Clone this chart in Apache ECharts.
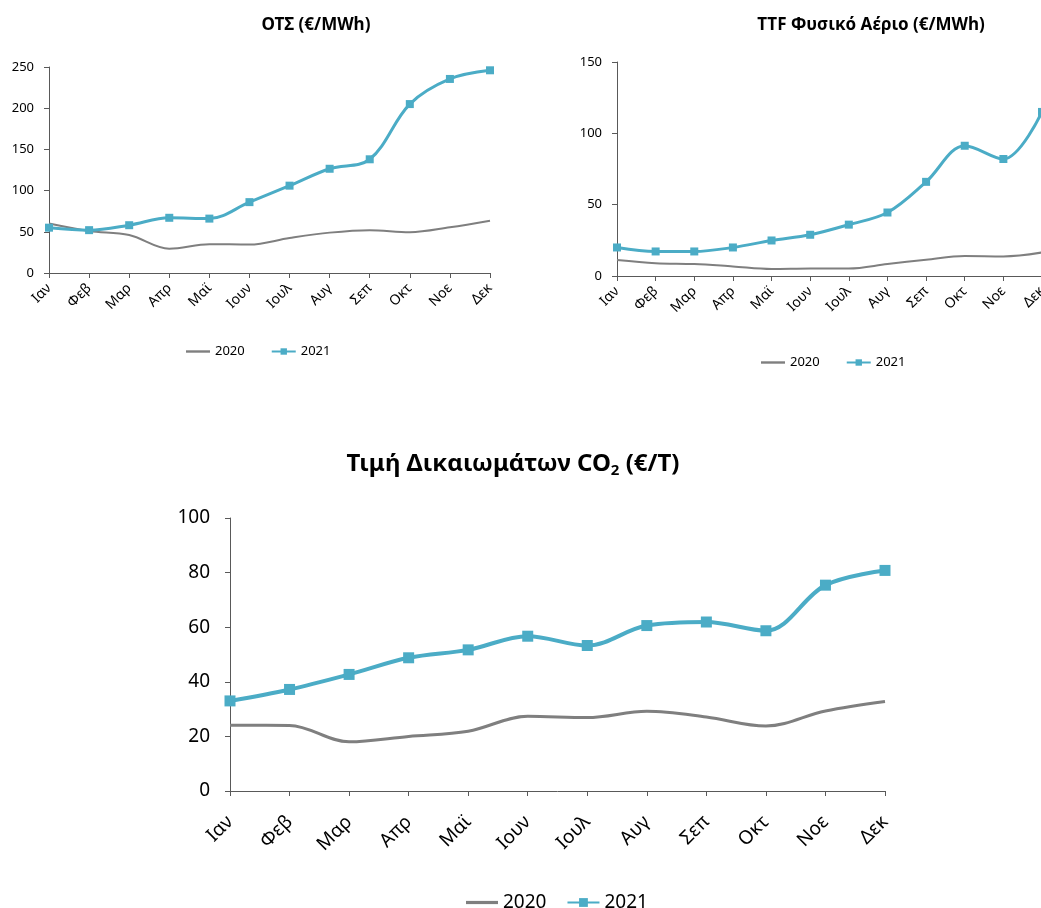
<!DOCTYPE html>
<html>
<head>
<meta charset="utf-8">
<script src="https://cdn.jsdelivr.net/npm/echarts@6/dist/echarts.min.js"></script>
<style>
  html, body { margin: 0; padding: 0; background: #fff; }
  #main { width: 1041px; height: 908px; }
</style>
</head>
<body>
<div id="main"></div>
<script>
// months
var months = ["Ιαν", "Φεβ", "Μαρ", "Απρ", "Μαϊ", "Ιουν", "Ιουλ", "Αυγ", "Σεπ", "Οκτ", "Νοε", "Δεκ"];

// ΟΤΣ (€/MWh)
var ots2020 = [60, 51, 46, 29.5, 35, 34.5, 42.5, 49, 52, 49.5, 55.5, 63.5];
var ots2021 = [55, 52, 58, 67, 66, 86, 106, 126.5, 138, 205, 235.5, 246];

// TTF Φυσικό Αέριο (€/MWh)
var ttf2020 = [11.2, 9, 8.4, 6.7, 4.9, 5.3, 5.3, 8.4, 11.4, 14, 13.7, 16.5];
var ttf2021 = [20, 17.2, 17.2, 20, 24.9, 28.9, 36, 44.5, 66, 91.3, 82, 115];

// Τιμή Δικαιωμάτων CO2 (€/T)
var co2_2020 = [24.1, 24, 18, 20, 21.9, 27.4, 26.9, 29.2, 27.1, 23.8, 29.3, 32.8];
var co2_2021 = [33, 37.2, 42.7, 48.8, 51.7, 56.7, 53.3, 60.6, 61.9, 58.7, 75.4, 80.8];

var grey = "#7f7f7f";
var blue = "#4bacc6";
var axisCol = "#595959";
var font = "Noto Sans";
var lineIcon = "path://M0,0H30V3H0Z";

var chart = echarts.init(document.getElementById("main"));

function xAx(idx, size, margin) {
  return {
    type: "category",
    gridIndex: idx,
    data: months,
    boundaryGap: false,
    axisLine: { lineStyle: { color: axisCol, width: 1 } },
    axisTick: { show: true, length: 5, lineStyle: { color: axisCol } },
    axisLabel: { rotate: 45, fontSize: size, color: "#000", fontFamily: font, margin: margin, interval: 0 },
    splitLine: { show: false }
  };
}
function yAx(idx, max, step, size, margin) {
  return {
    type: "value",
    gridIndex: idx,
    min: 0,
    max: max,
    interval: step,
    axisLine: { show: true, lineStyle: { color: axisCol, width: 1 } },
    axisTick: { show: true, length: 5, lineStyle: { color: axisCol } },
    axisLabel: { fontSize: size, color: "#000", fontFamily: font, margin: margin },
    splitLine: { show: false }
  };
}
function greyLine(name, idx, data, w) {
  return {
    name: name, type: "line", xAxisIndex: idx, yAxisIndex: idx,
    data: data, smooth: 0.35, symbol: "none",
    lineStyle: { color: grey, width: w }, itemStyle: { color: grey }, z: 2
  };
}
function blueLine(name, idx, data, w, s) {
  return {
    name: name, type: "line", xAxisIndex: idx, yAxisIndex: idx,
    data: data, smooth: 0.35, symbol: "rect", symbolSize: s,
    lineStyle: { color: blue, width: w }, itemStyle: { color: blue }, z: 3
  };
}
function legendOf(a, b, left, top, w, h, gap, size) {
  return {
    data: [{ name: a, icon: lineIcon }, { name: b }],
    left: left, top: top, itemWidth: w, itemHeight: h, itemGap: gap,
    textStyle: { fontSize: size, color: "#000", fontFamily: font },
    formatter: function (n) { return n.split("_")[0]; }
  };
}

var option = {
  backgroundColor: "#fff",
  animation: false,
  title: [
    { text: "ΟΤΣ (€/MWh)", left: 311, top: 12, textAlign: "center",
      textStyle: { fontSize: 17, fontWeight: "bold", color: "#000", fontFamily: font } },
    { text: "TTF Φυσικό Αέριο (€/MWh)", left: 866, top: 12, textAlign: "center",
      textStyle: { fontSize: 17, fontWeight: "bold", color: "#000", fontFamily: font } },
    { text: "{a|Τιμή Δικαιωμάτων CO}{b|2}{a| (€/T)}", left: 508, top: 446, textAlign: "center",
      textStyle: {
        rich: {
          a: { fontSize: 24, fontWeight: "bold", color: "#000", fontFamily: font },
          b: { fontSize: 15, fontWeight: "bold", color: "#000", fontFamily: font, padding: [12, 0, 0, 0] }
        }
      } }
  ],
  legend: [
    legendOf("2020", "2021", 181, 340, 24, 8, 26, 13),
    legendOf("2020_ttf", "2021_ttf", 756, 351, 24, 8, 26, 13),
    legendOf("2020_co2", "2021_co2", 461, 888, 32, 11, 20, 19)
  ],
  grid: [
    { left: 49, top: 67, width: 441, height: 206, outerBoundsMode: "none" },
    { left: 617, top: 62, width: 425, height: 214, outerBoundsMode: "none" },
    { left: 230, top: 518, width: 655, height: 273, outerBoundsMode: "none" }
  ],
  xAxis: [xAx(0, 14, 13), xAx(1, 14, 13), xAx(2, 19, 28)],
  yAxis: [yAx(0, 250, 50, 13, 15), yAx(1, 150, 50, 13, 15), yAx(2, 100, 20, 19, 20)],
  series: [
    greyLine("2020", 0, ots2020, 2),
    blueLine("2021", 0, ots2021, 3, 8),
    greyLine("2020_ttf", 1, ttf2020, 2),
    blueLine("2021_ttf", 1, ttf2021, 3, 8),
    greyLine("2020_co2", 2, co2_2020, 3),
    blueLine("2021_co2", 2, co2_2021, 4, 11)
  ]
};

chart.setOption(option);
window.addEventListener("resize", function () { chart.resize(); });
</script>
</body>
</html>
